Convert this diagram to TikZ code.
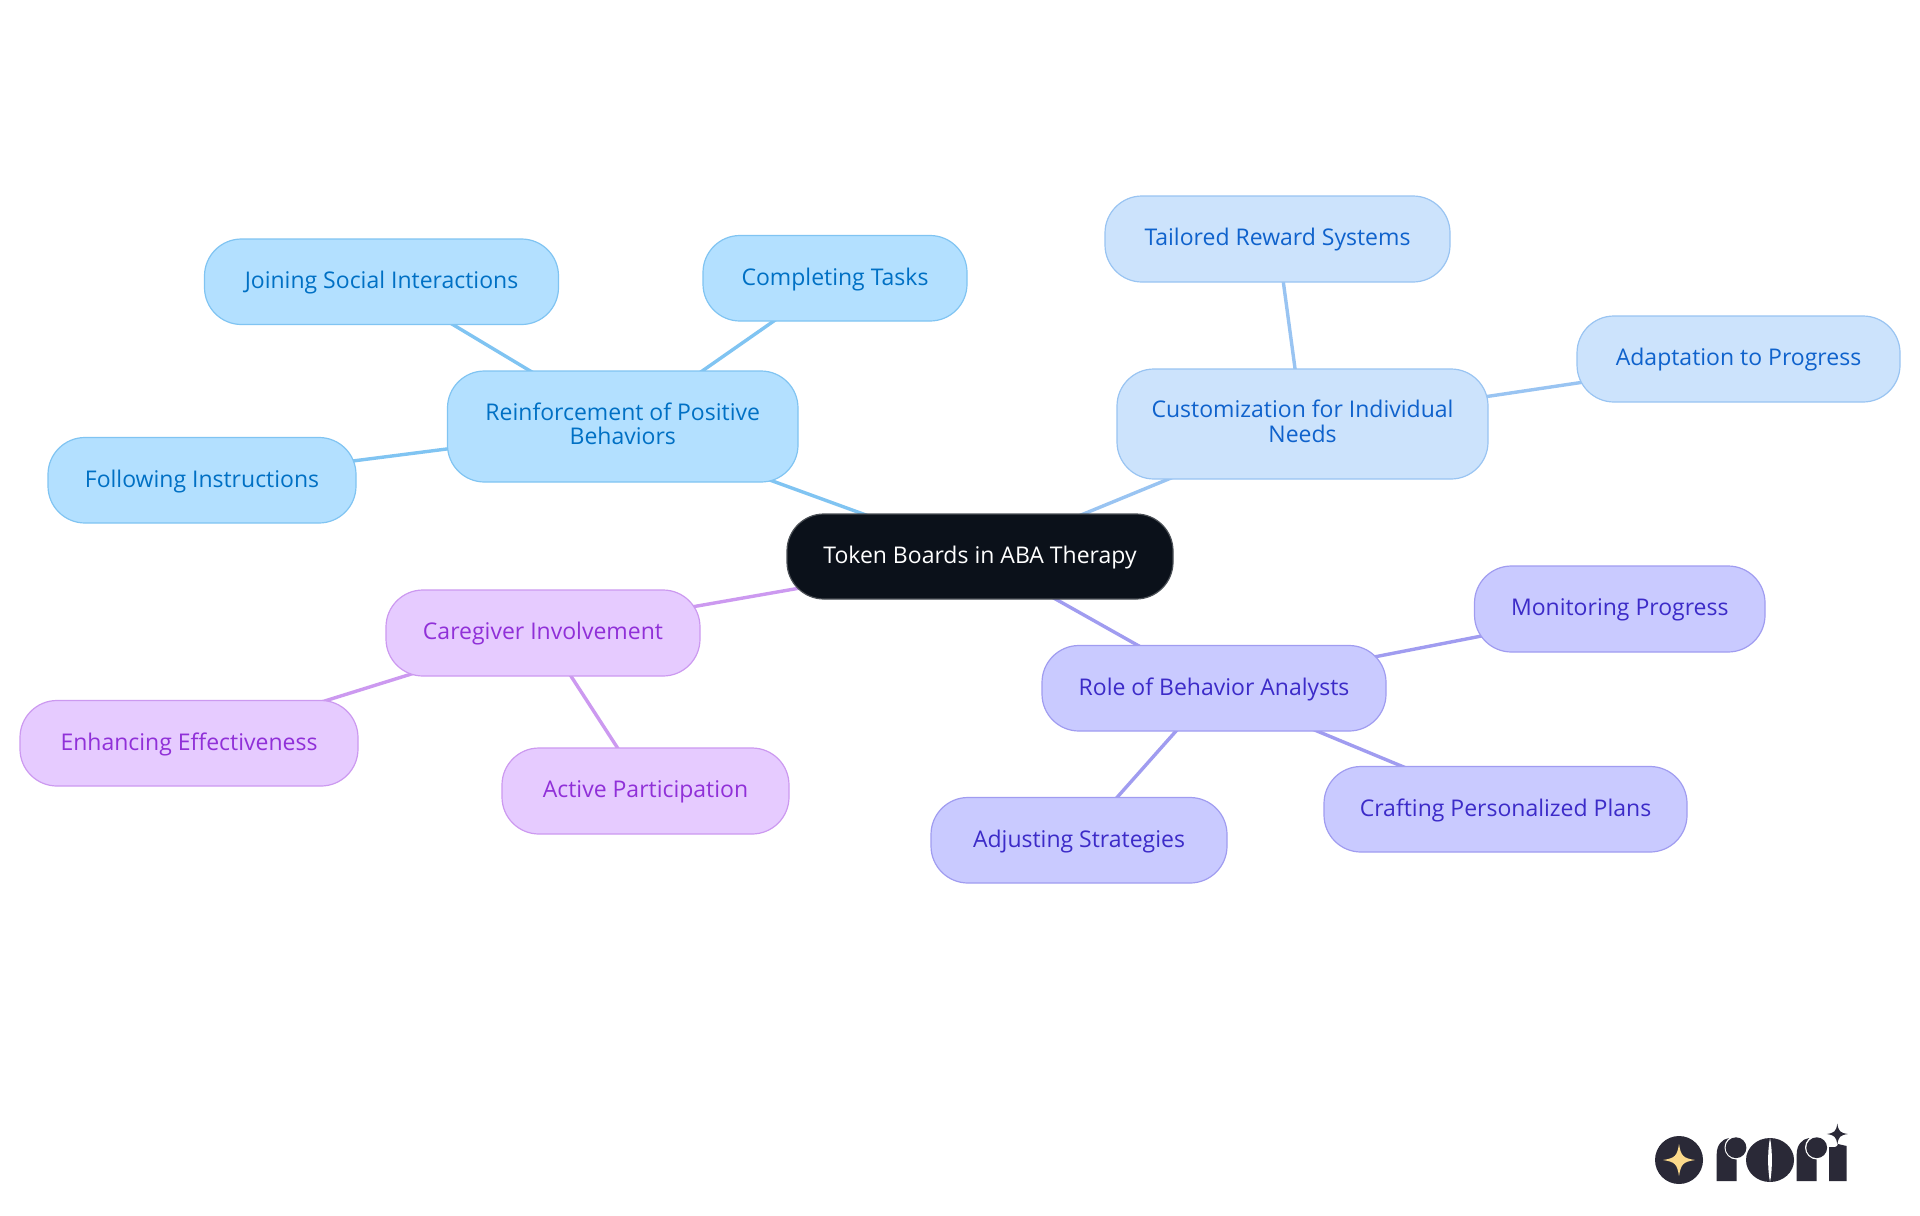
\documentclass[tikz,border=0pt]{standalone}
\usepackage{fontspec}
\setmainfont{Open Sans}
\usetikzlibrary{backgrounds}
\definecolor{rootfill}{HTML}{0B111A}
\definecolor{rootline}{HTML}{4A4F55}
\definecolor{bluefill}{HTML}{B3E0FF}
\definecolor{blueline}{HTML}{80C4F2}
\definecolor{bluetext}{HTML}{0070C4}
\definecolor{skyfill}{HTML}{CCE3FC}
\definecolor{skyline}{HTML}{99C4F2}
\definecolor{skytext}{HTML}{0F62CC}
\definecolor{indfill}{HTML}{C9CAFF}
\definecolor{indline}{HTML}{A09CF0}
\definecolor{indtext}{HTML}{3C2BC8}
\definecolor{purfill}{HTML}{E6CBFF}
\definecolor{purline}{HTML}{CC99F0}
\definecolor{purtext}{HTML}{9030D8}
\definecolor{logodark}{HTML}{2A2937}
\definecolor{logogold}{HTML}{FBD98A}
\tikzset{
  x=0.5pt,y=-0.5pt,
  mnode/.style={rounded corners=18.5pt,inner sep=0pt,line width=0.6pt,
    font=\fontsize{11.5}{12.3}\selectfont},
  rootn/.style={mnode,fill=rootfill,draw=rootline,text=white},
  bluen/.style={mnode,fill=bluefill,draw=blueline,text=bluetext},
  skyn/.style={mnode,fill=skyfill,draw=skyline,text=skytext},
  indn/.style={mnode,fill=indfill,draw=indline,text=indtext},
  purn/.style={mnode,fill=purfill,draw=purline,text=purtext},
  blink/.style={blueline,line width=1.7pt},
  skylink/.style={skyline,line width=1.7pt},
  indlink/.style={indline,line width=1.7pt},
  purlink/.style={purline,line width=1.7pt},
}
\newcommand{\txtline}[2]{\makebox[0pt][c]{\raisebox{#1}[0pt][0pt]{#2}}}
\newcommand{\oneline}[1]{\txtline{-3.4pt}{#1}}
\newcommand{\twolines}[2]{\txtline{3.2pt}{#1}\txtline{-9.2pt}{#2}}
\newcommand{\mm}[7]{%
  \pgfmathsetmacro{\nw}{(#4-#3)*0.5}\pgfmathsetmacro{\nh}{(#6-#5)*0.5}%
  \pgfmathsetmacro{\cx}{(#3+#4)/2}\pgfmathsetmacro{\cy}{(#5+#6)/2}%
  \node[#1,minimum width=\nw pt,minimum height=\nh pt] (#2) at (\cx,\cy) {#7};}
\newcommand{\sparkle}[5]{% cx cy rx ry colour
  \fill[#5] (#1,#2-#4) .. controls (#1+0.12*#3,#2-0.25*#4) and (#1+0.25*#3,#2-0.12*#4) .. (#1+#3,#2)
   .. controls (#1+0.25*#3,#2+0.12*#4) and (#1+0.12*#3,#2+0.25*#4) .. (#1,#2+#4)
   .. controls (#1-0.12*#3,#2+0.25*#4) and (#1-0.25*#3,#2+0.12*#4) .. (#1-#3,#2)
   .. controls (#1-0.25*#3,#2-0.12*#4) and (#1-0.12*#3,#2-0.25*#4) .. (#1,#2-#4) -- cycle;}
\begin{document}
\begin{tikzpicture}
\useasboundingbox (0,0) rectangle (1920,1215);
\mm{rootn}{root}{787}{1173}{514}{599}{\oneline{Token Boards in ABA Therapy}}
\mm{bluen}{reinf}{447.5}{798}{371}{482}{\twolines{Reinforcement of Positive}{Behaviors}}
\mm{bluen}{joining}{204.5}{558.5}{239}{324.5}{\oneline{Joining Social Interactions}}
\mm{bluen}{completing}{703}{967}{235.5}{321}{\oneline{Completing Tasks}}
\mm{bluen}{following}{48}{356}{437.5}{523}{\oneline{Following Instructions}}
\mm{skyn}{custom}{1117}{1488}{369}{479}{\twolines{Customization for Individual}{Needs}}
\mm{skyn}{tailored}{1105}{1450}{196}{282}{\oneline{Tailored Reward Systems}}
\mm{skyn}{adapt}{1577}{1900}{316}{402}{\oneline{Adaptation to Progress}}
\mm{indn}{role}{1042}{1386}{645.5}{731}{\oneline{Role of Behavior Analysts}}
\mm{indn}{monitor}{1474.5}{1765}{566}{652}{\oneline{Monitoring Progress}}
\mm{indn}{craft}{1324}{1687}{766.5}{852}{\oneline{Crafting Personalized Plans}}
\mm{indn}{adjust}{931}{1227}{797.5}{883}{\oneline{Adjusting Strategies}}
\mm{purn}{care}{386}{700}{590}{676}{\oneline{Caregiver Involvement}}
\mm{purn}{enhance}{20}{358}{700.5}{786}{\oneline{Enhancing Effectiveness}}
\mm{purn}{active}{502}{789}{748}{834}{\oneline{Active Participation}}
\begin{scope}[on background layer]
\fill[white] (0,0) rectangle (1920,1215);
\draw[blink] (root.center) -- (reinf.center);
\draw[blink] (reinf.center) -- (joining.center);
\draw[blink] (reinf.center) -- (completing.center);
\draw[blink] (reinf.center) -- (following.center);
\draw[skylink] (root.center) -- (custom.center);
\draw[skylink] (custom.center) -- (tailored.center);
\draw[skylink] (custom.center) -- (adapt.center);
\draw[indlink] (root.center) -- (role.center);
\draw[indlink] (role.center) -- (monitor.center);
\draw[indlink] (role.center) -- (craft.center);
\draw[indlink] (role.center) -- (adjust.center);
\draw[purlink] (root.center) -- (care.center);
\draw[purlink] (care.center) -- (enhance.center);
\draw[purlink] (care.center) -- (active.center);
\end{scope}
% logo
\fill[logodark] (1679,1160) circle[radius=24];
\sparkle{1679}{1160}{16}{16}{logogold}
% r 1
\fill[logodark] (1716.7,1181) -- (1716.7,1154) .. controls (1716.7,1145) and (1722,1139) .. (1729,1138) -- (1736.7,1150) -- (1736.7,1181) -- cycle;
\fill[white] (1736.5,1147.5) circle[radius=12];
\fill[logodark] (1736,1147.7) circle[radius=10.4];
% o
\fill[logodark] (1770,1160) ellipse[x radius=24,y radius=22];
\fill[white] (1770,1138) .. controls (1772.5,1150) and (1772.5,1170) .. (1770,1182) .. controls (1767.5,1170) and (1767.5,1150) .. (1770,1138) -- cycle;
% r 2
\fill[logodark] (1796.7,1181) -- (1796.7,1154) .. controls (1796.7,1145) and (1802,1139) .. (1809,1138) -- (1816.7,1150) -- (1816.7,1181) -- cycle;
\fill[white] (1817,1147.5) circle[radius=12];
\fill[logodark] (1816.7,1147.7) circle[radius=10.4];
% i
\fill[logodark] (1829,1181) -- (1829,1147) .. controls (1834,1147) and (1837,1148) .. (1838,1144) -- (1846.7,1146) -- (1846.7,1181) -- cycle;
\sparkle{1837.3}{1134}{10.5}{10.5}{logodark}
\end{tikzpicture}
\end{document}
